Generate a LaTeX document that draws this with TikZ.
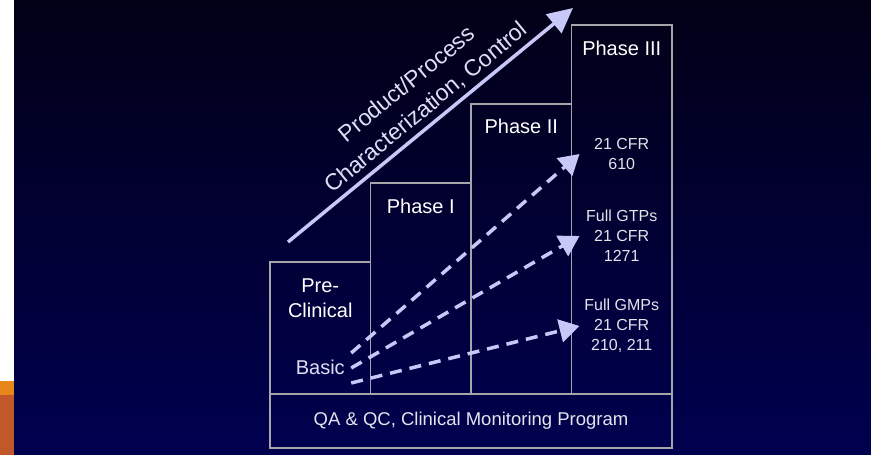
\documentclass[tikz,border=0pt]{standalone}
\usepackage{fontspec}
\setmainfont{Liberation Sans}
\usetikzlibrary{arrows.meta}
\definecolor{bgtop}{RGB}{2,0,22}
\definecolor{bgbot}{RGB}{0,0,80}
\definecolor{lav}{RGB}{200,200,248}
\definecolor{lightlav}{RGB}{222,222,246}
\definecolor{boxgray}{RGB}{165,165,170}
\definecolor{rulegray}{RGB}{228,228,236}
\definecolor{taborange}{RGB}{232,134,26}
\definecolor{tabbrown}{RGB}{192,88,42}

\begin{document}
\begin{tikzpicture}[x=1pt,y=1pt,
  box/.style={draw=boxgray,line width=1.3pt,minimum width=100.5pt,inner sep=0pt,outer sep=0pt,anchor=south west},
  phase/.style={text=white,font=\fontsize{20}{25}\selectfont,align=center},
  rule/.style={text=rulegray,font=\fontsize{16}{20}\selectfont,align=center},
  flow/.style={draw=lav,line width=3.5pt,dash pattern=on 12pt off 8pt,-{Triangle[length=20pt,width=23pt,fill=lav]}},
  trend/.style={draw=lav,line width=3.5pt,-{Triangle[length=25pt,width=24pt,fill=lav]}}]

   \useasboundingbox (0,0) rectangle (871,455);
   \fill[white] (0,74) rectangle (14,455);
   \fill[taborange] (0,60) rectangle (14,74);
   \fill[tabbrown] (0,0) rectangle (14,60);
   \shade[top color=bgtop,bottom color=bgbot] (14,0) rectangle (871,455);

   \node[box,minimum height=132pt] (pre) at (270,61) {};
   \node[box,minimum height=211pt] (ph1) at (pre.south east) {};
   \node[box,minimum height=290pt] (ph2) at (ph1.south east) {};
   \node[box,minimum height=369pt] (ph3) at (ph2.south east) {};
   \node[box,anchor=north west,minimum width=402pt,minimum height=54pt,text=rulegray,font=\fontsize{18.5}{22}\selectfont] (qa) at (pre.south west) {QA \& QC, Clinical Monitoring Program};

   \node[phase] (pretitle) at ([yshift=-36pt]pre.north) {Pre-\\Clinical};
   \node[phase] (t1) at ([yshift=-23pt]ph1.north) {Phase I};
   \node[phase] (t2) at ([yshift=-22pt]ph2.north) {Phase II};
   \node[phase] (t3) at ([yshift=-23pt]ph3.north) {Phase III};
   \node[phase,text=lightlav] (basic) at ([yshift=27pt]pre.south) {Basic};

   \node[rule] (cfr) at ([yshift=-129pt]ph3.north) {21 CFR\\610};
   \node[rule] (gtp) at ([yshift=-211pt]ph3.north) {Full GTPs\\21 CFR\\1271};
   \node[rule] (gmp) at ([yshift=-301pt]ph3.north) {Full GMPs\\21 CFR\\210, 211};

   \draw[flow] ([xshift=3pt,yshift=14pt]basic.east) -- ([xshift=8pt]ph3.west |- cfr);
   \draw[flow] ([xshift=3pt,yshift=-1pt]basic.east) -- ([xshift=8pt]ph3.west |- gtp);
   \draw[flow] ([xshift=3pt,yshift=-16pt]basic.east) -- ([xshift=8pt]ph3.west |- gmp);

   \coordinate (lo) at (288,213);
   \coordinate (hi) at (573,447);
   \draw[trend] (lo) -- (hi);
   \node[font=\fontsize{23}{30}\selectfont,text=lightlav,align=center,rotate=39.4] (trendlbl) at (416.7,358.7) {Product/Process\\Characterization, Control};
\end{tikzpicture}
\end{document}
